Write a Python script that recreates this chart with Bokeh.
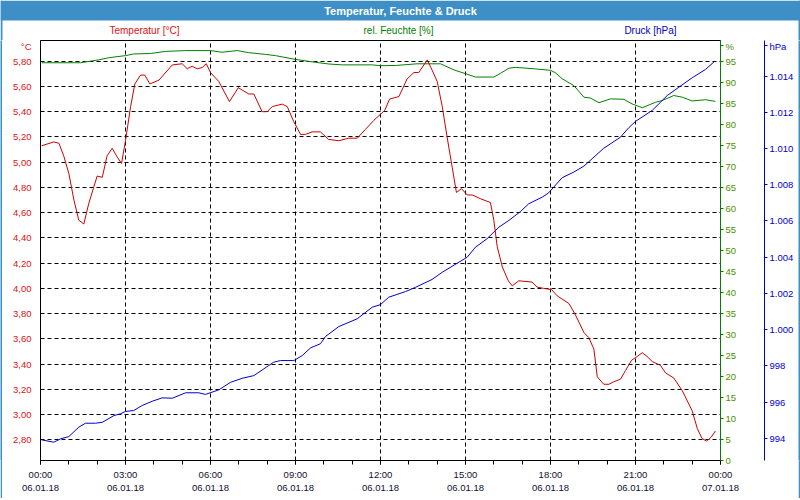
from bokeh.plotting import figure
from bokeh.models import Range1d, LinearAxis, FixedTicker, BoxAnnotation, Label
from bokeh.layouts import column, row
from bokeh.embed import file_html
from bokeh.resources import INLINE

# ---------------- data ----------------
temp_hours = [0.04, 0.47, 0.65, 0.82, 1.00, 1.18, 1.35, 1.53, 1.70, 2.00,
              2.18, 2.35, 2.53, 2.71, 2.86, 3.00, 3.18, 3.33, 3.53, 3.68,
              3.86, 4.18, 4.65, 5.00, 5.18, 5.35, 5.53, 5.71, 5.85, 6.00,
              6.29, 6.67, 6.98, 7.35, 7.53, 7.82, 8.00, 8.18, 8.53, 8.71,
              8.94, 9.18, 9.35, 9.59, 9.88, 10.17, 10.53, 10.88, 11.18, 11.47,
              11.76, 12.00, 12.15, 12.32, 12.65, 12.94, 13.18, 13.35, 13.65, 13.82,
              14.00, 14.18, 14.35, 14.53, 14.68, 14.86, 15.06, 15.24, 15.53, 15.88,
              16.00, 16.12, 16.30, 16.51, 16.65, 16.88, 17.35, 17.53, 17.76, 18.04,
              18.24, 18.65, 18.88, 19.18, 19.35, 19.53, 19.65, 19.88, 20.06, 20.23,
              20.47, 20.65, 20.86, 21.06, 21.24, 21.41, 21.59, 21.88, 22.06, 22.35,
              22.65, 23.00, 23.18, 23.35, 23.51, 23.67, 23.82]
temp_values = [5.13, 5.16, 5.15, 5.05, 4.91, 4.70, 4.54, 4.51, 4.67, 4.89,
               4.88, 5.05, 5.11, 5.04, 4.99, 5.17, 5.44, 5.62, 5.69, 5.69,
               5.62, 5.65, 5.77, 5.78, 5.74, 5.76, 5.74, 5.75, 5.78, 5.71,
               5.64, 5.48, 5.59, 5.54, 5.54, 5.40, 5.40, 5.44, 5.46, 5.44,
               5.32, 5.22, 5.22, 5.24, 5.24, 5.18, 5.17, 5.19, 5.19, 5.26,
               5.33, 5.38, 5.41, 5.50, 5.52, 5.66, 5.71, 5.71, 5.81, 5.73,
               5.64, 5.44, 5.20, 4.96, 4.76, 4.79, 4.74, 4.74, 4.71, 4.68,
               4.54, 4.33, 4.17, 4.06, 4.02, 4.06, 4.05, 4.01, 4.00, 3.99,
               3.94, 3.88, 3.79, 3.65, 3.61, 3.52, 3.30, 3.24, 3.24, 3.26,
               3.28, 3.35, 3.43, 3.46, 3.49, 3.46, 3.42, 3.39, 3.33, 3.29,
               3.19, 3.03, 2.89, 2.81, 2.79, 2.82, 2.87]

hum_hours = [0.04, 1.41, 2.06, 2.41, 3.00, 3.29, 3.88, 4.41, 5.12, 6.00,
             6.41, 6.94, 7.35, 7.94, 8.29, 9.00, 9.71, 10.18, 10.65, 11.71,
             12.00, 12.53, 13.29, 14.12, 14.59, 15.00, 15.35, 16.00, 16.24, 16.53,
             16.76, 17.35, 18.00, 18.18, 18.41, 18.82, 19.18, 19.41, 19.71, 20.12,
             20.59, 20.88, 21.24, 21.71, 21.94, 22.35, 22.65, 23.00, 23.47, 23.82]
hum_values = [94.7, 94.7, 95.4, 95.9, 96.4, 96.8, 96.9, 97.4, 97.6, 97.6,
              97.2, 97.6, 97.1, 96.7, 96.4, 95.5, 94.8, 94.4, 94.2, 94.2,
              94.0, 94.05, 94.45, 94.45, 93.0, 92.1, 91.3, 91.3, 92.2, 93.4,
              93.6, 93.3, 92.9, 92.3, 90.9, 89.3, 86.5, 86.3, 85.2, 86.1,
              86.0, 84.9, 84.0, 85.3, 85.7, 86.9, 86.5, 85.6, 85.9, 85.5]

pres_hours = [0.04, 0.47, 0.71, 1.00, 1.35, 1.59, 1.94, 2.18, 2.59, 2.82,
              3.00, 3.29, 3.59, 3.94, 4.29, 4.65, 5.12, 5.59, 5.82, 6.29,
              6.71, 7.12, 7.53, 7.88, 8.23, 8.47, 8.94, 9.24, 9.53, 9.88,
              10.06, 10.53, 11.18, 11.71, 12.00, 12.29, 12.88, 13.24, 13.82, 14.18,
              14.71, 15.06, 15.35, 15.76, 16.18, 16.53, 16.94, 17.23, 17.71, 17.93,
              18.41, 18.82, 19.18, 19.47, 19.88, 20.47, 20.76, 21.00, 21.59, 22.12,
              22.53, 23.00, 23.47, 23.80]
pres_values = [993.91, 993.78, 993.97, 994.09, 994.61, 994.83, 994.83, 994.88, 995.25, 995.35,
               995.48, 995.53, 995.81, 996.04, 996.23, 996.21, 996.51, 996.51, 996.42, 996.67,
               997.09, 997.31, 997.46, 997.83, 998.20, 998.29, 998.29, 998.57, 998.99, 999.22,
               999.62, 1000.17, 1000.60, 1001.24, 1001.38, 1001.79, 1002.10, 1002.34, 1002.77, 1003.17,
               1003.67, 1004.00, 1004.55, 1005.02, 1005.66, 1006.03, 1006.52, 1006.95, 1007.32, 1007.55,
               1008.39, 1008.70, 1009.03, 1009.44, 1010.02, 1010.63, 1011.15, 1011.50, 1012.11, 1012.93,
               1013.39, 1013.91, 1014.37, 1014.83]

x_ticks = [0, 3, 6, 9, 12, 15, 18, 21, 24]
x_minor_ticks = list(range(0, 25))
x_tick_labels = ["00:00\n06.01.18", "03:00\n06.01.18", "06:00\n06.01.18",
                 "09:00\n06.01.18", "12:00\n06.01.18", "15:00\n06.01.18",
                 "18:00\n06.01.18", "21:00\n06.01.18", "00:00\n07.01.18"]
temp_ticks = [2.8, 3.0, 3.2, 3.4, 3.6, 3.8, 4.0, 4.2, 4.4, 4.6, 4.8, 5.0, 5.2, 5.4, 5.6, 5.8]
temp_tick_labels = ["2,80", "3,00", "3,20", "3,40", "3,60", "3,80", "4,00", "4,20",
                    "4,40", "4,60", "4,80", "5,00", "5,20", "5,40", "5,60", "5,80"]
hum_ticks = [0, 5, 10, 15, 20, 25, 30, 35, 40, 45, 50, 55, 60, 65, 70, 75, 80, 85, 90, 95]
pres_ticks = [994, 996, 998, 1000, 1002, 1004, 1006, 1008, 1010, 1012, 1014]
pres_tick_labels = ["994", "996", "998", "1.000", "1.002", "1.004", "1.006",
                    "1.008", "1.010", "1.012", "1.014"]

title_text = "Temperatur, Feuchte & Druck"
series_names = ["Temperatur [°C]", "rel. Feuchte [%]", "Druck [hPa]"]
unit_names = ["°C", "%", "hPa"]
# axis positions where the unit captions sit (top end of each axis)
unit_positions = [5.925, 98.8, 1015.70]

# ---------------- styles ----------------
FONT = "Liberation Sans"
TICK_FS = "9.5px"
RED = "#cc0000"
RED_TXT = "#dd1111"
GREEN = "#008000"
GREEN_TXT = "#4f9000"
BLUE = "#0000cc"
BAR = "#3d8fc6"


def strip(w, h):
    f = figure(width=w, height=h, output_backend="svg", toolbar_location=None,
               x_axis_type=None, y_axis_type=None, min_border=0, title=None)
    f.background_fill_color = BAR
    f.border_fill_color = BAR
    f.outline_line_color = None
    return f


# ---------------- header figure (title bar + series captions) ----------------
head = figure(width=800, height=40, output_backend="svg", toolbar_location=None,
              x_axis_type=None, y_axis_type=None, min_border=0, title=None,
              x_range=Range1d(0, 800), y_range=Range1d(40, 0))
head.outline_line_color = None
head.background_fill_color = "white"
head.border_fill_color = "white"
head.xgrid.visible = False
head.ygrid.visible = False
head.add_layout(BoxAnnotation(left=0, right=800, top=0, bottom=20, fill_color=BAR,
                              fill_alpha=1.0, line_color=None))
head.add_layout(BoxAnnotation(left=0, right=2, top=0, bottom=40, fill_color=BAR,
                              fill_alpha=1.0, line_color=None))
head.add_layout(BoxAnnotation(left=798, right=800, top=0, bottom=40, fill_color=BAR,
                              fill_alpha=1.0, line_color=None))


def hlabel(x, y, text, color, size="10px", style="normal"):
    return Label(x=x, y=y, text=text, text_align="center", text_baseline="middle",
                 text_color=color, text_font=FONT, text_font_size=size,
                 text_font_style=style)


head.add_layout(hlabel(400, 10, title_text, "white", size="11px", style="bold"))
head.add_layout(hlabel(144, 30, series_names[0], RED_TXT))
head.add_layout(hlabel(398, 30, series_names[1], GREEN))
head.add_layout(hlabel(650, 30, series_names[2], BLUE))

# ---------------- main figure ----------------
p = figure(width=796, height=458, output_backend="svg", toolbar_location=None,
           x_range=Range1d(0, 24), y_range=Range1d(2.636, 5.964),
           min_border_left=38, min_border_right=78, min_border_top=0,
           min_border_bottom=38, title=None)
p.extra_y_ranges = {"hum": Range1d(0, 100), "pres": Range1d(992.77, 1015.97)}
p.outline_line_color = "black"
p.background_fill_color = "white"
p.border_fill_color = "white"

p.xgrid.ticker = FixedTicker(ticks=x_ticks)
p.ygrid.ticker = FixedTicker(ticks=temp_ticks)
for g in (p.xgrid, p.ygrid):
    g.grid_line_color = "black"
    g.grid_line_dash = "4 3"
    g.grid_line_width = 1

xa = p.xaxis[0]
xa.ticker = FixedTicker(ticks=x_ticks, minor_ticks=x_minor_ticks)
xa.major_label_overrides = dict(zip(x_ticks, x_tick_labels))
xa.axis_line_color = "black"
xa.major_tick_line_color = "black"
xa.minor_tick_line_color = "black"
xa.major_tick_in = 0
xa.major_tick_out = 4
xa.minor_tick_in = 0
xa.minor_tick_out = 4
xa.major_label_standoff = 4
xa.major_label_text_font = FONT
xa.major_label_text_font_size = TICK_FS
xa.major_label_text_color = "#101030"

ya = p.yaxis[0]
ya.ticker = FixedTicker(ticks=temp_ticks + [unit_positions[0]])
ya.major_label_overrides = dict(zip(temp_ticks + [unit_positions[0]],
                                    temp_tick_labels + [unit_names[0]]))
ya.axis_line_color = "black"
ya.major_tick_line_color = None
ya.minor_tick_line_color = None
ya.major_label_standoff = 3
ya.major_label_text_font = FONT
ya.major_label_text_font_size = TICK_FS
ya.major_label_text_color = RED_TXT

ha = LinearAxis(y_range_name="hum",
                ticker=FixedTicker(ticks=hum_ticks + [unit_positions[1]]),
                axis_line_color=GREEN, major_tick_line_color=GREEN,
                minor_tick_line_color=None, major_tick_in=0, major_tick_out=3,
                major_label_standoff=2, major_label_text_font=FONT,
                major_label_text_font_size=TICK_FS, major_label_text_color=GREEN_TXT,
                axis_label=" ", axis_label_standoff=11,
                axis_label_text_font_size="10px")
ha.major_label_overrides = {unit_positions[1]: unit_names[1]}
p.add_layout(ha, "right")

pa = LinearAxis(y_range_name="pres",
                ticker=FixedTicker(ticks=pres_ticks + [unit_positions[2]]),
                axis_line_color=BLUE, major_tick_line_color=BLUE,
                minor_tick_line_color=None, major_tick_in=0, major_tick_out=3,
                major_label_standoff=2, major_label_text_font=FONT,
                major_label_text_font_size=TICK_FS, major_label_text_color=BLUE)
pa.major_label_overrides = dict(zip(pres_ticks + [unit_positions[2]],
                                    pres_tick_labels + [unit_names[2]]))
p.add_layout(pa, "right")

p.line(hum_hours, hum_values, y_range_name="hum", line_color=GREEN, line_width=1)
p.line(pres_hours, pres_values, y_range_name="pres", line_color=BLUE, line_width=1)
p.line(temp_hours, temp_values, line_color=RED, line_width=1)

layout = column(head,
                row(strip(2, 458), p, strip(2, 458), spacing=0),
                strip(800, 2), spacing=0)

open("out.html", "w").write(file_html(layout, INLINE))
